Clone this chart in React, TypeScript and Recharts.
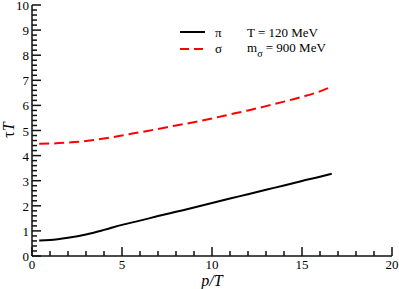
import React from 'react';
import { LineChart, Line, XAxis, YAxis, Label } from 'recharts';

const pOverT = [0.4, 1, 2, 3, 4, 5, 6, 7, 8, 9, 10, 11, 12, 13, 14, 15, 16, 16.65];
const tauPi = [0.62, 0.64, 0.73, 0.86, 1.04, 1.24, 1.41, 1.59, 1.76, 1.93, 2.11, 2.29, 2.46, 2.64, 2.81, 2.99, 3.16, 3.28];
const tauSigma = [4.47, 4.48, 4.52, 4.58, 4.68, 4.8, 4.93, 5.06, 5.2, 5.33, 5.48, 5.64, 5.8, 5.97, 6.15, 6.34, 6.56, 6.75];

const xMajorTicks = [0, 5, 10, 15, 20];
const yMajorTicks = [0, 1, 2, 3, 4, 5, 6, 7, 8, 9, 10];

const xTicks: number[] = [];
for (let i = 0; i <= 20; i++) xTicks.push(i);
const yTicks: number[] = [];
for (let i = 0; i <= 50; i++) yTicks.push(Math.round(i * 2) / 10);

const data = pOverT.map((p, i) => ({ p, pi: tauPi[i], sigma: tauSigma[i] }));

const FONT = "'Times New Roman', 'Liberation Serif', Times, serif";
const MAJ = 9;
const MIN = 5;
const TICK_COLOR = '#111';
const TW = 1.5;

function XTickBottom(props: any) {
  const { x, payload } = props;
  const v = payload.value;
  const major = xMajorTicks.includes(v);
  const h = major ? MAJ : MIN;
  return (
    <g>
      <rect x={x - TW / 2} y={256 - h} width={TW} height={h} fill={TICK_COLOR} stroke="none" />
      {major ? (
        <text x={x} y={269} textAnchor="middle" fontSize={13} fontFamily={FONT} style={{ fontFamily: FONT }} fill="#000">
          {String(v)}
        </text>
      ) : null}
    </g>
  );
}

function XTickTop(props: any) {
  const { x, payload } = props;
  const h = xMajorTicks.includes(payload.value) ? MAJ : MIN;
  return <rect x={x - TW / 2} y={5} width={TW} height={h} fill={TICK_COLOR} stroke="none" />;
}

function YTickLeft(props: any) {
  const { y, payload } = props;
  const v = payload.value;
  const major = yMajorTicks.includes(v);
  const w = major ? MAJ : MIN;
  return (
    <g>
      <rect x={32} y={y - TW / 2} width={w} height={TW} fill={TICK_COLOR} stroke="none" />
      {major ? (
        <text x={29} y={y + 5} textAnchor="end" fontSize={13} fontFamily={FONT} style={{ fontFamily: FONT }} fill="#000">
          {String(v)}
        </text>
      ) : null}
    </g>
  );
}

function YTickRight(props: any) {
  const { y, payload } = props;
  const w = yMajorTicks.includes(payload.value) ? MAJ : MIN;
  return <rect x={392 - w} y={y - TW / 2} width={w} height={TW} fill={TICK_COLOR} stroke="none" />;
}

function LegendBox() {
  return (
    <svg width={399} height={289} style={{ position: 'absolute', left: 0, top: 0, pointerEvents: 'none' }}>
      <line x1={180} x2={205} y1={32} y2={32} stroke="#000" strokeWidth={2} />
      <text x={215} y={37} fontSize={13} fontFamily={FONT} style={{ fontFamily: FONT }} fill="#000">π</text>
      <text x={247} y={37} fontSize={13} fontFamily={FONT} style={{ fontFamily: FONT }} fill="#000">T = 120 MeV</text>
      <line x1={180} x2={205} y1={49} y2={49} stroke="#ff0000" strokeWidth={2} strokeDasharray="9 5" />
      <text x={215} y={53} fontSize={13} fontFamily={FONT} style={{ fontFamily: FONT }} fill="#000">σ</text>
      <text x={247} y={52} fontSize={13} fontFamily={FONT} style={{ fontFamily: FONT }} fill="#000">
        m<tspan dy={5} fontSize={10}>σ</tspan>
        <tspan dy={-5}> = 900 MeV</tspan>
      </text>
    </svg>
  );
}

export default function App() {
  return (
    <div style={{ position: 'absolute', left: 0, top: 0, width: 399, height: 289 }}>
      <LineChart width={399} height={289} data={data} margin={{ top: 5, right: 7, left: 0, bottom: 0 }}>
        <XAxis
          xAxisId="b"
          dataKey="p"
          type="number"
          domain={[0, 20]}
          ticks={xTicks}
          interval={0}
          height={33}
          tick={XTickBottom}
          tickLine={false}
          axisLine={{ stroke: TICK_COLOR, strokeWidth: TW }}
        >
          <Label
            content={() => (
              <text x={212} y={286} textAnchor="middle" fontSize={16} fontFamily={FONT} style={{ fontFamily: FONT, fontStyle: 'italic' }} fill="#000">
                p/T
              </text>
            )}
          />
        </XAxis>
        <XAxis
          xAxisId="t"
          dataKey="p"
          type="number"
          orientation="top"
          domain={[0, 20]}
          ticks={xTicks}
          interval={0}
          height={0}
          tick={XTickTop}
          tickLine={false}
          axisLine={{ stroke: TICK_COLOR, strokeWidth: TW }}
        />
        <YAxis
          yAxisId="l"
          type="number"
          domain={[0, 10]}
          ticks={yTicks}
          interval={0}
          width={32}
          tick={YTickLeft}
          tickLine={false}
          axisLine={{ stroke: TICK_COLOR, strokeWidth: TW }}
        >
          <Label
            content={() => (
              <text x={14} y={130} transform="rotate(-90 14 130)" textAnchor="middle" fontSize={16} fontFamily={FONT} style={{ fontFamily: FONT }} fill="#000">
                τ<tspan fontStyle="italic">T</tspan>
              </text>
            )}
          />
        </YAxis>
        <YAxis
          yAxisId="r"
          orientation="right"
          type="number"
          domain={[0, 10]}
          ticks={yTicks}
          interval={0}
          width={0}
          tick={YTickRight}
          tickLine={false}
          axisLine={{ stroke: TICK_COLOR, strokeWidth: TW }}
        />
        <Line xAxisId="b" yAxisId="l" dataKey="pi" type="monotone" stroke="#000" strokeWidth={2} dot={false} isAnimationActive={false} name="π" />
        <Line xAxisId="b" yAxisId="l" dataKey="sigma" type="monotone" stroke="#ff0000" strokeWidth={2} strokeDasharray="10 5" dot={false} isAnimationActive={false} name="σ" />
      </LineChart>
      <LegendBox />
    </div>
  );
}
